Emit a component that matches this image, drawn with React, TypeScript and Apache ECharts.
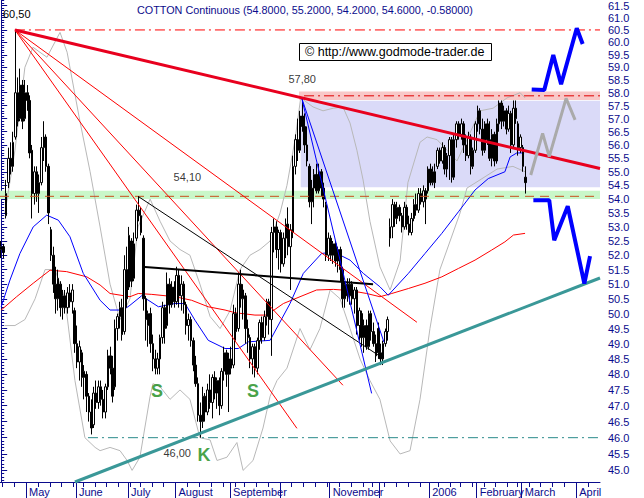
import React, { useEffect, useRef } from 'react';
import * as echarts from 'echarts';

const NAVY = '#0b0b8c';
const FONT = '"Liberation Sans", Arial, sans-serif';

// daily candles [open, close, low, high], index 0 = 15 Apr 2005
const candles: number[][] = [
  [52.2, 52.3, 51.9, 52.5], [52.3, 52.1, 51.9, 52.4], [53.4, 54.2, 53.3, 54.7], [54.6, 55.5, 54.4, 55.9],
  [55.5, 55.2, 54.9, 56.1], [55.2, 56.1, 55.0, 56.5], [56.3, 58.0, 56.2, 60.5], [58.0, 56.9, 56.7, 58.6],
  [57.0, 58.3, 56.9, 58.95], [58.3, 56.9, 56.6, 58.5], [57.0, 58.0, 56.9, 58.5], [58.0, 57.7, 57.3, 58.3],
  [57.7, 55.7, 55.5, 57.9], [55.8, 54.2, 53.3, 56.0], [54.2, 55.0, 53.8, 55.2], [55.0, 54.2, 53.9, 55.2],
  [54.2, 54.6, 53.5, 54.9], [54.6, 55.9, 54.5, 56.3], [55.9, 56.3, 55.4, 56.9], [56.3, 55.2, 55.0, 56.4],
  [55.2, 53.5, 53.1, 55.3], [52.9, 52.0, 51.8, 53.0], [52.0, 51.0, 50.7, 52.3], [51.0, 50.5, 50.0, 51.6],
  [50.5, 51.2, 50.1, 51.5], [51.0, 50.2, 49.9, 51.1], [50.2, 50.6, 49.8, 50.8], [50.6, 50.2, 50.0, 50.8],
  [50.2, 50.7, 50.0, 50.9], [50.7, 50.4, 50.2, 51.0], [50.4, 50.8, 50.0, 51.0], [50.1, 49.0, 48.7, 50.2],
  [49.0, 48.4, 48.2, 49.6], [48.4, 48.9, 47.8, 49.1], [48.7, 47.9, 47.6, 48.8], [47.9, 48.1, 47.2, 48.3],
  [48.0, 47.3, 46.8, 48.1], [47.3, 46.8, 46.5, 47.4], [46.8, 46.3, 46.1, 47.2], [46.4, 47.4, 46.3, 47.6],
  [47.4, 47.1, 46.9, 47.8], [47.1, 47.6, 46.9, 47.8], [47.6, 47.2, 47.0, 47.8], [47.2, 46.8, 46.6, 47.5],
  [46.8, 47.6, 46.6, 47.7], [47.6, 48.6, 47.5, 48.8], [48.6, 48.2, 48.0, 48.9], [48.2, 47.3, 47.1, 48.6],
  [47.6, 49.5, 47.5, 49.8], [49.5, 49.9, 49.1, 50.0], [49.9, 50.2, 49.5, 50.4], [50.2, 49.3, 49.1, 50.5],
  [49.4, 51.5, 49.3, 52.0], [51.5, 50.5, 50.2, 52.3], [50.9, 52.7, 50.8, 53.0], [52.5, 51.1, 50.9, 52.6],
  [51.2, 52.4, 51.1, 52.8], [52.6, 53.6, 52.5, 53.8], [53.6, 53.4, 53.2, 54.1], [53.4, 52.8, 52.7, 53.7],
  [52.6, 50.5, 50.1, 52.7], [50.5, 49.8, 49.1, 50.6], [49.6, 50.0, 48.9, 50.1], [50.0, 49.0, 48.7, 50.2],
  [49.0, 48.5, 48.1, 49.3], [48.5, 48.2, 48.0, 48.8], [48.2, 48.5, 48.0, 48.7], [48.5, 49.2, 48.0, 49.3],
  [49.2, 50.2, 49.0, 50.4], [50.2, 49.5, 49.0, 50.3], [49.6, 51.0, 49.5, 51.4], [51.0, 50.3, 50.0, 51.2],
  [50.3, 50.9, 50.2, 51.1], [50.9, 50.4, 50.2, 51.1], [50.4, 51.3, 50.3, 51.6], [51.3, 50.6, 50.2, 51.5],
  [50.6, 51.0, 50.1, 51.3], [51.0, 50.3, 50.0, 51.1], [50.3, 49.6, 49.3, 50.4], [49.6, 49.8, 49.1, 50.0],
  [49.8, 49.1, 48.9, 49.9], [49.1, 48.3, 48.1, 49.2], [48.3, 47.7, 47.6, 48.6], [47.7, 46.7, 46.5, 47.9],
  [46.7, 46.5, 46.0, 47.1], [46.5, 47.3, 46.3, 47.6], [47.3, 46.8, 46.5, 47.4], [46.8, 47.5, 46.7, 47.7],
  [47.5, 47.1, 46.9, 48.0], [47.1, 47.9, 46.6, 48.0], [47.9, 47.4, 47.2, 48.1], [47.4, 47.8, 46.9, 47.9],
  [47.8, 47.0, 46.7, 47.9], [47.0, 48.1, 46.9, 48.2], [48.1, 48.7, 47.8, 48.9], [48.7, 48.0, 47.6, 48.8],
  [48.0, 48.5, 46.8, 48.7], [48.5, 48.2, 48.0, 48.9], [48.3, 50.0, 48.2, 50.3], [50.0, 49.4, 49.1, 50.2],
  [49.5, 51.0, 49.4, 51.4], [51.0, 50.5, 50.2, 51.5], [50.5, 50.8, 49.8, 51.0], [50.6, 49.5, 49.0, 50.7],
  [49.5, 49.2, 48.7, 49.8], [49.2, 48.5, 48.2, 49.3], [48.5, 48.9, 48.0, 49.0], [48.9, 48.2, 47.9, 49.0],
  [48.2, 49.1, 48.0, 49.2], [49.1, 49.7, 48.8, 49.8], [49.7, 49.2, 49.0, 49.9], [49.2, 49.9, 49.1, 50.1],
  [49.9, 50.4, 49.6, 50.5], [50.4, 49.8, 49.3, 50.5], [49.8, 52.8, 48.6, 53.0], [52.8, 53.0, 52.1, 53.3],
  [53.0, 52.2, 51.9, 53.2], [52.2, 52.8, 51.5, 52.9], [52.8, 51.7, 51.4, 52.9], [51.7, 52.6, 51.6, 52.8],
  [52.6, 53.1, 51.9, 53.3], [53.1, 52.3, 52.0, 53.7], [52.3, 52.9, 50.8, 53.1], [52.8, 55.2, 52.6, 55.6],
  [55.2, 56.2, 54.9, 56.4], [56.2, 55.8, 55.4, 57.0], [55.8, 57.1, 55.7, 57.3], [57.1, 56.7, 56.5, 57.8],
  [56.7, 56.0, 55.7, 57.2], [56.0, 55.4, 55.2, 56.7], [55.2, 53.9, 53.7, 55.3], [53.9, 54.4, 53.1, 54.7],
  [54.4, 54.9, 53.7, 55.1], [54.9, 54.3, 54.2, 55.3], [54.3, 55.0, 54.2, 55.3], [55.0, 54.4, 54.1, 55.1],
  [54.4, 54.0, 53.7, 54.6], [53.8, 52.0, 51.8, 53.9], [52.0, 52.6, 51.8, 52.8], [52.6, 52.0, 51.8, 52.7],
  [52.0, 52.4, 51.7, 52.5], [52.4, 51.8, 51.6, 52.5], [51.8, 52.2, 51.4, 52.3], [52.2, 51.5, 51.1, 52.3],
  [51.5, 50.5, 50.2, 51.6], [50.5, 51.0, 50.2, 51.1], [51.0, 50.6, 50.4, 51.2], [50.6, 51.0, 50.3, 51.2],
  [51.0, 50.5, 50.3, 51.1], [50.5, 50.8, 50.0, 50.9], [50.8, 49.6, 49.3, 50.9], [49.6, 50.1, 49.1, 50.2],
  [50.0, 49.2, 48.9, 50.1], [49.2, 49.6, 48.7, 49.8], [49.6, 48.9, 48.8, 49.8], [48.9, 50.0, 48.8, 50.1],
  [50.0, 49.4, 49.1, 50.1], [49.4, 49.0, 48.9, 49.7], [49.0, 48.6, 48.4, 49.3], [49.5, 48.7, 48.5, 49.7],
  [48.7, 48.5, 48.3, 49.0], [48.5, 49.0, 48.3, 49.1], [49.0, 49.4, 48.9, 49.5], [49.4, 49.8, 49.1, 49.9],
  [52.6, 53.0, 52.3, 53.3], [53.0, 53.8, 52.6, 54.0], [53.8, 53.3, 53.0, 53.9], [53.3, 53.7, 53.1, 53.9],
  [53.7, 53.4, 53.2, 53.8], [53.4, 53.0, 52.8, 53.5], [53.0, 53.7, 52.9, 53.9], [53.7, 53.1, 52.9, 53.8],
  [53.1, 52.8, 52.7, 53.4], [52.8, 53.3, 52.7, 53.5], [53.3, 53.8, 53.2, 54.0], [53.8, 53.6, 53.4, 54.2],
  [53.6, 54.2, 53.5, 54.4], [54.2, 53.9, 53.8, 54.4], [53.9, 54.3, 53.7, 54.5], [54.3, 54.0, 53.1, 54.4],
  [54.3, 55.1, 54.2, 55.2], [55.1, 54.6, 54.5, 55.3], [54.6, 55.0, 54.5, 55.2], [55.0, 54.6, 54.4, 55.3],
  [55.2, 55.8, 55.1, 55.9], [55.8, 55.4, 55.3, 55.9], [55.4, 55.9, 55.3, 56.1], [55.9, 55.1, 54.9, 56.0],
  [55.1, 55.6, 54.8, 55.7], [55.6, 56.2, 54.7, 56.3], [56.2, 54.8, 54.6, 56.3], [54.8, 56.2, 54.7, 56.4],
  [56.2, 56.8, 55.9, 56.9], [56.8, 56.4, 56.2, 56.9], [56.4, 56.8, 56.2, 57.0], [56.8, 56.0, 55.7, 56.9],
  [56.0, 55.6, 55.4, 56.4], [55.6, 56.3, 55.5, 56.5], [56.3, 55.2, 54.9, 56.4], [55.2, 55.8, 55.1, 55.9],
  [55.8, 56.8, 55.7, 56.9], [56.8, 57.3, 56.5, 57.5], [57.3, 56.6, 56.4, 57.4], [56.6, 55.8, 55.6, 57.0],
  [55.8, 56.8, 55.7, 56.9], [56.8, 56.2, 56.0, 57.0], [56.2, 55.5, 55.4, 56.9], [55.5, 56.4, 55.2, 56.6],
  [56.4, 55.4, 55.2, 56.5], [55.4, 56.8, 55.3, 57.0], [56.8, 57.6, 56.5, 57.7], [57.6, 56.9, 56.6, 57.7],
  [56.9, 57.3, 56.7, 57.5], [57.3, 56.6, 56.4, 57.4], [56.6, 57.2, 56.5, 57.5], [57.2, 56.0, 55.7, 57.3],
  [56.0, 57.4, 55.9, 57.7], [57.4, 57.0, 56.8, 57.7], [56.8, 55.9, 55.6, 56.9], [55.9, 56.3, 55.7, 56.4],
  [55.9, 55.2, 55.0, 56.0], [54.8, 54.6, 54.2, 55.2],
];

// indicator curves [dayIndex, value]
const blueMA = [
  [0, 50.23], [3.7, 51.14], [7.9, 52.06], [13.5, 53.0], [19.2, 53.42], [24.1, 53.24], [29, 52.65], [34.6, 51.37],
  [41.7, 50.45], [45.9, 50.12], [51.5, 50.12], [54.3, 50.28], [59.2, 50.6], [66.3, 50.23], [73.3, 50.34],
  [77.5, 50.34], [81.7, 49.78], [87.3, 49.11], [94.4, 48.84], [100, 48.84], [104.2, 49.06], [113.4, 49.11],
  [121.8, 50.34], [127.4, 51.37], [135.1, 52.06], [140.1, 52.12], [147.1, 51.83], [152.7, 51.37], [159.7, 50.91],
  [163.2, 50.62], [171.7, 51.37], [178.7, 52.06], [185.8, 52.77], [192.8, 53.54], [199.8, 54.33], [205.4, 54.75],
  [212.4, 55.0], [214.6, 55.55], [217.4, 55.7], [220.5, 55.7],
];
const redMA = [
  [0, 50.12], [6.5, 50.57], [13.5, 51.03], [20.6, 51.48], [27.6, 51.43], [36.1, 51.25], [41.7, 50.97], [45.9, 50.68],
  [54.3, 50.57], [57.8, 50.68], [63.5, 50.65], [73.3, 50.57], [80.3, 50.45], [87.3, 50.23], [94.4, 50.12],
  [98.6, 50.03], [107, 49.95], [112, 49.95], [119, 50.34], [126, 50.57], [133, 50.8], [140.1, 50.82], [147.1, 50.78],
  [154.1, 50.68], [159.7, 50.57], [164.7, 50.68], [171.7, 50.85], [178.7, 51.03], [185.8, 51.25], [192.8, 51.54],
  [199.8, 51.83], [206.8, 52.18], [212.4, 52.47], [216, 52.71], [220.9, 52.77],
];
const greyUpper = [
  [1.6, 53.5], [5.8, 55.8], [10, 59.0], [13.4, 59.8], [19.3, 59.4], [24.8, 60.4], [27.8, 59.6], [33.2, 56.9],
  [37.5, 55.0], [41.7, 53.0], [45.9, 51.0], [50.1, 49.8], [54.3, 50.5], [57.7, 53.0], [62.8, 54.0], [67, 53.2],
  [71.2, 52.5], [75.4, 52.2], [79.6, 52.0], [83.8, 51.0], [88.1, 49.9], [92.3, 49.5], [96.5, 50.1], [100.7, 51.5],
  [104.9, 52.0], [109.1, 52.2], [113.4, 52.5], [117.6, 53.5], [120.5, 54.5], [123.9, 56.2], [126.3, 57.8],
  [131.5, 57.45], [135.7, 57.3], [140, 57.4], [144.1, 57.45], [147.1, 56.83], [150, 55.8], [152.6, 54.7],
  [155.5, 53.2], [159.7, 51.6], [164, 50.8], [168.2, 51.8], [171.5, 54.6], [176.6, 56.1], [179.6, 56.3],
  [183.8, 56.2], [188, 55.8], [192.2, 55.4], [196.4, 56.2], [201.9, 57.3], [207.4, 57.4], [213.3, 57.8],
  [218.8, 58.0], [220.9, 57.8],
];
const greyLower = [
  [1.6, 49.6], [5.8, 49.6], [10, 49.8], [14.3, 50.5], [18.5, 51.5], [22.7, 51.5], [26.9, 50.5], [31.1, 47.8],
  [35.3, 46.0], [39.6, 45.7], [41.7, 45.6], [45.9, 45.7], [50.1, 45.6], [53.1, 45.3], [55.2, 45.0], [58.5, 45.4],
  [62.8, 47.3], [64, 47.7], [67, 47.6], [71.2, 47.2], [75.4, 47.5], [79.6, 47.2], [83.8, 46.0], [88.1, 45.93],
  [91, 45.3], [95.2, 45.4], [99.4, 45.85], [102, 45.0], [106.2, 45.3], [110.4, 46.3], [113.4, 47.3],
  [116.3, 47.8], [120.5, 48.2], [126, 49.5], [130.2, 48.8], [134.4, 49.5], [138.7, 50.8], [142.9, 50.5],
  [147.1, 49.5], [151.3, 48.5], [155.5, 47.8], [159.7, 47.2], [164, 45.9], [168.2, 45.5], [172.4, 45.6],
  [176.6, 47.2], [180.8, 49.5], [185, 51.5], [189.3, 52.5], [193.5, 53.5], [196.4, 54.4], [201.9, 54.7],
  [209.1, 55.1], [215.8, 55.2], [220.9, 55.0],
];

// drawn trend lines [dayIndex, value]
const redMain = [[5.8, 60.5], [252.5, 55.12]];
const redFan1 = [[5.8, 60.5], [175.3, 49.71]];
const redFan2 = [[5.8, 60.5], [144.1, 47.65]];
const redFan3 = [[5.8, 60.5], [124.7, 46.29]];
const blackThin = [[57.7, 54.1], [161, 48.52]];
const blackThick = [[60.6, 51.59], [156.8, 51.0]];
const blueFan1 = [[126.7, 57.8], [156.2, 47.39]];
const blueFan2 = [[126.7, 57.8], [161.4, 49.05]];
const tealSupport = [[31.1, 44.65], [252.5, 51.21]];
const greyPath = [[223.3, 54.88], [228.3, 56.44], [231.1, 55.56], [238.2, 57.78], [242.0, 56.95]];
const bluePathUp = [[223.7, 58.13], [229.0, 58.11], [232.8, 59.49], [236.1, 58.33], [242.7, 60.57], [245.2, 59.93]];
const bluePathDown = [[224.4, 53.96], [231.1, 53.96], [233.2, 52.53], [238.9, 53.74], [245.9, 51.02], [248.3, 51.97]];

// horizontal levels / zones
const levelTop = { v: 60.5, from: 5.8 };
const levelHigh = { v: 57.88, from: 127.7 };
const levelMid = { v: 54.1, from: -0.5 };
const levelLow = { v: 46.0, from: 36.6 };
const greenZone = { lo: 54.0, hi: 54.3, from: -0.5 };
const pinkZone = { lo: 57.72, hi: 58.05, from: 125.6 };
const blueZone = { lo: 54.43, hi: 57.69, from: 126.3 };

// annotation anchors: numbers are anchored at their left edge, letters at their centre
const annotations = [
  { pos: [120.9, 58.54], text: '57,80', kind: 'num' },
  { pos: [72.5, 54.8], text: '54,10', kind: 'num' },
  { pos: [68.2, 45.52], text: '46,00', kind: 'num' },
  { pos: [65.7, 47.45], text: 'S', kind: 'big' },
  { pos: [106.2, 47.45], text: 'S', kind: 'big' },
  { pos: [85.5, 45.46], text: 'K', kind: 'big' },
];
const PEAK_LABEL = '60,50';

// axes
const X_MIN = -0.5;
const X_MAX = 252.5;
const Y_MIN = 44.65;
const Y_MAX = 61.73;
const monthStarts = [11, 32, 54, 74, 97, 118, 139, 160, 181, 201, 220, 243];
const monthNames = ['May', 'June', 'July', 'August', 'September', '', 'November', '', '2006', 'February', 'March', 'April'];
const weekStarts = [1, 6, 11, 16, 21, 26, 31, 35, 40, 45, 50, 55, 59, 64, 69, 74, 79, 84, 89, 94, 99, 103, 108, 113,
  118, 123, 128, 133, 138, 143, 148, 153, 157, 162, 167, 172, 177, 181, 185, 190, 194, 199, 204, 209, 214, 218,
  223, 228, 233, 238, 243, 248];
const yMajor: number[] = [];
for (let k = 90; k <= 123; k++) yMajor.push(k / 2);
const yMinor: number[] = [];
for (let k = 447; k <= 617; k++) yMinor.push(k / 10);

const TITLE = 'COTTON Continuous (54.8000, 55.2000, 54.2000, 54.6000, -0.58000)';
const COPYRIGHT = '\u00A9 http://www.godmode-trader.de';

function lineSeries(data: number[][], color: string, width: number, z: number, type: any = 'solid') {
  return {
    type: 'line', data, symbol: 'none', silent: true, z, clip: true,
    lineStyle: { color, width, type, cap: 'butt' }, xAxisIndex: 0, yAxisIndex: 0,
  };
}
function hLine(l: { v: number; from: number }, color: string, type: any) {
  return lineSeries([[l.from, l.v], [X_MAX, l.v]], color, 1, 5, type);
}
function zone(zn: { lo: number; hi: number; from: number }, color: string) {
  return {
    type: 'line', data: [], silent: true, z: 1, xAxisIndex: 0, yAxisIndex: 0,
    markArea: {
      silent: true, itemStyle: { color, opacity: 1 },
      data: [[{ xAxis: zn.from, yAxis: zn.lo }, { xAxis: X_MAX, yAxis: zn.hi }]],
    },
  };
}

export default function App() {
  const ref = useRef<HTMLDivElement>(null);
  useEffect(() => {
    document.body.style.margin = '0';
    const chart = echarts.init(ref.current!, null, { renderer: 'svg' });
    const option: any = {
      animation: false,
      backgroundColor: '#ffffff',
      grid: { left: 0, right: 44, top: 0, bottom: 16, containLabel: false },
      xAxis: [
        {
          type: 'value', min: X_MIN, max: X_MAX, position: 'bottom',
          axisLine: { show: true, onZero: false, lineStyle: { color: NAVY, width: 1 } },
          axisTick: { show: true, customValues: weekStarts.map((k) => k - 0.5), length: 5, lineStyle: { color: NAVY } },
          axisLabel: { show: false }, splitLine: { show: false },
        },
        {
          type: 'value', min: X_MIN, max: X_MAX, position: 'bottom',
          axisLine: { show: false, onZero: false },
          axisTick: { show: true, customValues: monthStarts.map((k) => k - 0.5), length: 16, lineStyle: { color: NAVY } },
          axisLabel: {
            show: true, customValues: monthStarts.map((k) => k - 0.5), align: 'left', margin: 4,
            padding: [0, 0, 0, 3], color: NAVY, fontSize: 11, fontFamily: FONT,
            formatter: (v: number) => {
              const idx = monthStarts.indexOf(Math.round(v + 0.5));
              return idx >= 0 ? monthNames[idx] : '';
            },
          },
          splitLine: { show: false },
        },
      ],
      yAxis: [
        {
          type: 'log', min: Y_MIN, max: Y_MAX, position: 'right',
          axisLine: { show: true, lineStyle: { color: NAVY, width: 1 } },
          axisTick: { show: true, customValues: yMajor, length: 6, lineStyle: { color: NAVY } },
          axisLabel: {
            show: true, customValues: yMajor, color: NAVY, fontSize: 11, fontFamily: FONT, margin: 8,
            formatter: (v: number) => v.toFixed(1),
          },
          splitLine: { show: false },
        },
        {
          type: 'log', min: Y_MIN, max: Y_MAX, position: 'right',
          axisLine: { show: false },
          axisTick: { show: true, customValues: yMinor, length: 3, lineStyle: { color: NAVY } },
          axisLabel: { show: false }, splitLine: { show: false },
        },
      ],
      series: [
        zone(greenZone, '#c9f7c9'),
        zone(pinkZone, '#f8c8c8'),
        zone(blueZone, '#dadaf8'),
        lineSeries(greyUpper, '#b8b8b8', 1, 2),
        lineSeries(greyLower, '#b8b8b8', 1, 2),
        lineSeries(redMA, '#ff0000', 1, 3),
        lineSeries(blueMA, '#0000ff', 1, 3),
        {
          type: 'candlestick', z: 4, silent: true, xAxisIndex: 0, yAxisIndex: 0,
          data: candles.map((d, i) => [i, d[0], d[1], d[2], d[3]]),
          encode: { x: 0, y: [1, 2, 3, 4] },
          barWidth: 2,
          itemStyle: { color: '#ffffff', color0: '#000000', borderColor: '#000000', borderColor0: '#000000', borderWidth: 1 },
        },
        hLine(levelTop, '#ff0000', [10, 4, 2, 4]),
        hLine(levelHigh, '#e00000', [10, 4, 2, 4]),
        hLine(levelMid, '#c8501e', [9, 6]),
        hLine(levelLow, '#2a8a8a', [10, 4, 2, 4]),
        lineSeries(redFan1, '#ff0000', 1, 5),
        lineSeries(redFan2, '#ff0000', 1, 5),
        lineSeries(redFan3, '#ff0000', 1, 5),
        lineSeries(blackThin, '#000000', 1, 5),
        lineSeries(blackThick, '#000000', 2, 5),
        lineSeries(blueFan1, '#0000ff', 1, 5),
        lineSeries(blueFan2, '#0000ff', 1, 5),
        lineSeries(redMain, '#e8001e', 3, 6),
        lineSeries(tealSupport, '#3a9898', 3, 6),
        lineSeries(greyPath, '#aaaaaa', 3, 7),
        lineSeries(bluePathUp, '#0000ff', 4, 7),
        lineSeries(bluePathDown, '#0000ff', 4, 7),
        {
          type: 'scatter', z: 8, silent: true, clip: false, xAxisIndex: 0, yAxisIndex: 0, symbolSize: 1,
          itemStyle: { color: 'rgba(0,0,0,0)' },
          data: annotations.map((a) => ({
            value: a.pos,
            label: {
              show: true,
              position: a.kind === 'big' ? 'inside' : 'right',
              distance: 0,
              formatter: a.text,
              color: a.kind === 'big' ? '#178a17' : '#000000',
              fontSize: a.kind === 'big' ? 18 : 11,
              fontWeight: a.kind === 'big' ? 'bold' : 'normal',
              fontFamily: FONT,
            },
          })),
        },
      ],
      graphic: [
        {
          type: 'text', left: 137, top: 4, z: 10,
          style: { text: TITLE, fill: NAVY, font: '10.8px ' + FONT },
        },
        {
          type: 'text', x: 3, y: 8, z: 100,
          style: { text: PEAK_LABEL, fill: '#000000', font: '11px ' + FONT, textAlign: 'left', textVerticalAlign: 'top' },
        },
        {
          type: 'group', left: 299, top: 43, z: 10,
          children: [
            { type: 'rect', shape: { x: 0.5, y: 0.5, width: 192, height: 17 }, style: { fill: '#ffffff', stroke: '#000000', lineWidth: 1 } },
            { type: 'text', x: 6, y: 2.5, style: { text: COPYRIGHT, fill: '#000000', font: '12.5px ' + FONT } },
          ],
        },
      ],
    };
    chart.setOption(option);
    return () => chart.dispose();
  }, []);
  return <div ref={ref} style={{ width: 644, height: 498 }} />;
}
